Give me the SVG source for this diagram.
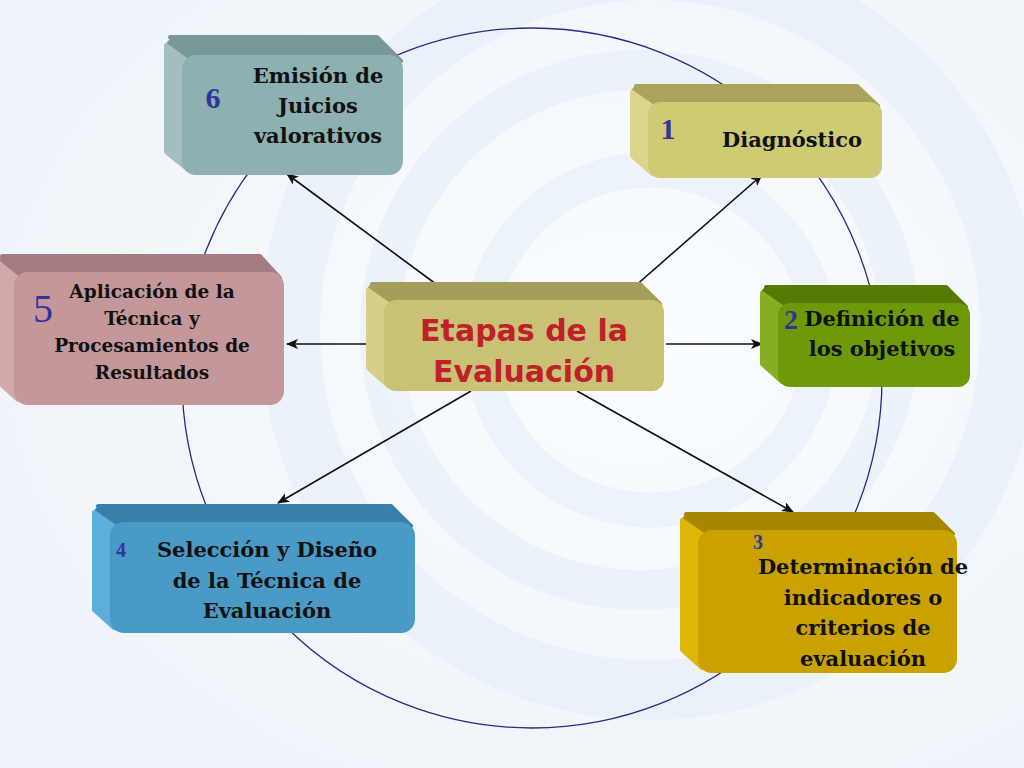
<svg xmlns="http://www.w3.org/2000/svg" width="1024" height="768" viewBox="0 0 1024 768">
<defs>
<style>
.lbl{font-family:"DejaVu Serif","Liberation Serif",serif;font-weight:bold;font-size:21px;fill:#111;text-anchor:middle}
.num{font-family:"Liberation Serif",serif;font-weight:bold;fill:#33339a;text-anchor:middle}
.ctr{font-family:"DejaVu Sans","Liberation Sans",sans-serif;font-weight:bold;font-size:30px;fill:#c0202a;text-anchor:middle}
.conn{stroke:#111;stroke-width:1.6;fill:none;marker-end:url(#ah)}
.ring{fill:none;stroke:#e4edf7}
.face{stroke-linejoin:round;stroke-width:4}
</style>
<marker id="ah" markerWidth="12" markerHeight="10" refX="11" refY="5" orient="auto" markerUnits="userSpaceOnUse">
<path d="M0,0 L12,5 L0,10 L3,5 Z" fill="#111"/>
</marker>
<radialGradient id="bg" cx="0.62" cy="0.45" r="0.75">
<stop offset="0" stop-color="#fbfdff"/>
<stop offset="1" stop-color="#edf3f9"/>
</radialGradient>
</defs>
<rect width="1024" height="768" fill="url(#bg)"/>
<g id="background">
<circle class="ring" cx="650" cy="330" r="360" stroke-width="60" opacity="0.55"/>
<circle class="ring" cx="640" cy="330" r="260" stroke-width="40" opacity="0.55"/>
<circle class="ring" cx="650" cy="340" r="170" stroke-width="35" opacity="0.55"/>
<circle cx="532" cy="378" r="350" fill="none" stroke="#2a2a8a" stroke-width="1.3"/>
</g>
<g id="connectors">
<line class="conn" x1="440" y1="287" x2="287" y2="174"/>
<line class="conn" x1="634" y1="287" x2="762" y2="175"/>
<line class="conn" x1="382" y1="344" x2="287" y2="344"/>
<line class="conn" x1="666" y1="344" x2="762" y2="344"/>
<line class="conn" x1="471" y1="391" x2="278" y2="503"/>
<line class="conn" x1="577" y1="391" x2="793" y2="512"/>
</g>
<g id="n6">
<rect x="164" y="37" width="200" height="100" rx="14" fill="#7a9898"/>
<polygon class="face" points="170,37 377,37 401,61 188,61" fill="#7a9898" stroke="#7a9898"/>
<polygon class="face" points="166,45 188,61 188,170 166,152" fill="#a2bebe" stroke="#a2bebe"/>
<rect x="182" y="55" width="221" height="120" rx="14" fill="#8db0b0"/>
<text class="num" x="213" y="108" font-size="30">6</text>
<text class="lbl" x="318" y="83">Emisión de</text>
<text class="lbl" x="318" y="113">Juicios</text>
<text class="lbl" x="318" y="143">valorativos</text>
</g>
<g id="n1">
<rect x="630" y="84" width="200" height="60" rx="12" fill="#a9a45c"/>
<polygon class="face" points="636,86 857,86 878,106 652,106" fill="#a9a45c" stroke="#a9a45c"/>
<polygon class="face" points="632,92 652,106 652,174 632,156" fill="#dad68c" stroke="#dad68c"/>
<rect x="648" y="102" width="234" height="76" rx="12" fill="#cfca74"/>
<text class="num" x="668" y="139" font-size="30">1</text>
<text class="lbl" x="792" y="147">Diagnóstico</text>
</g>
<g id="n5">
<rect x="-4" y="254" width="200" height="100" rx="14" fill="#a67c80"/>
<polygon class="face" points="2,256 260,256 280,278 18,278" fill="#a67c80" stroke="#a67c80"/>
<polygon class="face" points="-2,262 18,278 18,400 -2,382" fill="#d2a8aa" stroke="#d2a8aa"/>
<rect x="14" y="272" width="270" height="133" rx="14" fill="#c4979a"/>
<text class="num" x="43" y="322" style="font-size:40px;font-weight:normal">5</text>
<text class="lbl" x="152" y="298" style="font-size:18.5px">Aplicación de la</text>
<text class="lbl" x="152" y="325" style="font-size:18.5px">Técnica y</text>
<text class="lbl" x="152" y="352" style="font-size:18.5px">Procesamientos de</text>
<text class="lbl" x="152" y="379" style="font-size:18.5px">Resultados</text>
</g>
<g id="center">
<rect x="366" y="282" width="200" height="70" rx="12" fill="#a39e5c"/>
<polygon class="face" points="372,284 640,284 660,304 388,304" fill="#a39e5c" stroke="#a39e5c"/>
<polygon class="face" points="368,290 388,304 388,386 368,368" fill="#d6ce8a" stroke="#d6ce8a"/>
<rect x="384" y="300" width="280" height="91" rx="12" fill="#c9c174"/>
<text class="ctr" x="524" y="341">Etapas de la</text>
<text class="ctr" x="524" y="382">Evaluación</text>
</g>
<g id="n2">
<rect x="760" y="285" width="150" height="60" rx="12" fill="#567a06"/>
<polygon class="face" points="766,287 946,287 966,307 782,307" fill="#567a06" stroke="#567a06"/>
<polygon class="face" points="762,293 782,307 782,382 762,364" fill="#86ae22" stroke="#86ae22"/>
<rect x="778" y="303" width="192" height="84" rx="12" fill="#6e9a0a"/>
<text class="num" x="791" y="329" font-size="28">2</text>
<text class="lbl" x="882" y="326">Definición de</text>
<text class="lbl" x="882" y="356">los objetivos</text>
</g>
<g id="n4">
<rect x="92" y="504" width="250" height="90" rx="14" fill="#3a80a8"/>
<polygon class="face" points="98,506 391,506 411,526 114,526" fill="#3a80a8" stroke="#3a80a8"/>
<polygon class="face" points="94,512 114,526 114,628 94,610" fill="#5eaedb" stroke="#5eaedb"/>
<rect x="110" y="522" width="305" height="111" rx="14" fill="#4a9ac6"/>
<text class="num" x="121" y="557" font-size="20">4</text>
<text class="lbl" x="267" y="557">Selección y Diseño</text>
<text class="lbl" x="267" y="588">de la Técnica de</text>
<text class="lbl" x="267" y="618">Evaluación</text>
</g>
<g id="n3">
<rect x="680" y="512" width="220" height="120" rx="14" fill="#a88600"/>
<polygon class="face" points="686,514 933,514 953,534 702,534" fill="#a88600" stroke="#a88600"/>
<polygon class="face" points="682,520 702,534 702,668 682,650" fill="#e0b608" stroke="#e0b608"/>
<rect x="698" y="530" width="259" height="143" rx="14" fill="#c9a100"/>
<text class="num" x="758" y="549" font-size="20">3</text>
<text class="lbl" x="863" y="574">Determinación de</text>
<text class="lbl" x="863" y="605">indicadores o</text>
<text class="lbl" x="863" y="635">criterios de</text>
<text class="lbl" x="863" y="666">evaluación</text>
</g>
</svg>
